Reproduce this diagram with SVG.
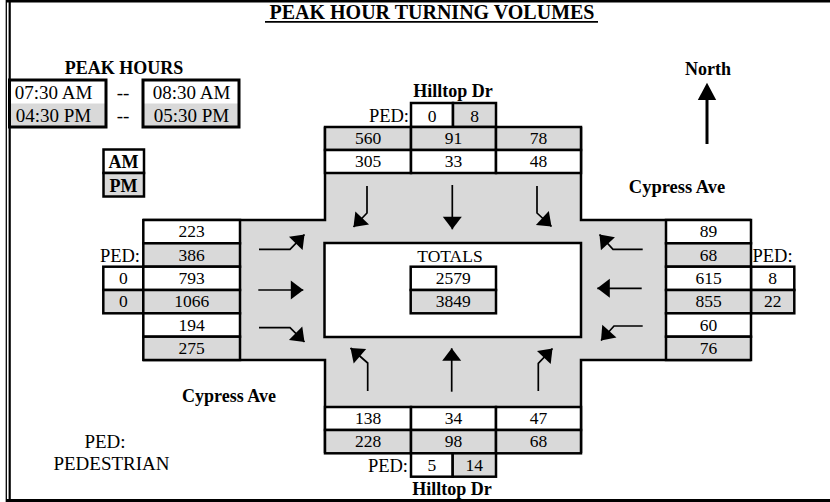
<svg xmlns="http://www.w3.org/2000/svg" width="830" height="502" viewBox="0 0 830 502">
<style>
text{font-family:"Liberation Serif","Times New Roman",serif;font-size:17.5px;fill:#000}
.b{font-weight:bold;font-size:18px}
.c{text-anchor:middle}
.e{text-anchor:end}
.p{font-size:18.5px}
.t{font-size:19px}
.w{fill:#fff;stroke:#000;stroke-width:2.5}
.g{fill:#d9d9d9;stroke:#000;stroke-width:2.5}
.ln{stroke:#000;stroke-width:2.5;fill:none}
.arr{stroke:#000;stroke-width:1.7;fill:none;marker-end:url(#ah)}
</style>
<defs>
<marker id="ah" viewBox="-14 -10 15 20" refX="0" refY="0" markerWidth="15" markerHeight="20" markerUnits="userSpaceOnUse" orient="auto">
<path d="M0,0 L-12.5,-9.5 L-12.5,9.5 Z" fill="#000"/>
</marker>
</defs>
<rect x="0" y="0" width="830" height="502" fill="#fff"/>
<g id="frame">
<line x1="6.3" y1="0" x2="6.3" y2="502" stroke="#000" stroke-width="1.3"/>
<line x1="9.7" y1="2" x2="9.7" y2="500" stroke="#000" stroke-width="2.2"/>
<line x1="6" y1="1.3" x2="830" y2="1.3" stroke="#000" stroke-width="2.6"/>
<line x1="6" y1="500.5" x2="830" y2="500.5" stroke="#000" stroke-width="3"/>
</g>
<g id="title">
<text class="b c" x="432" y="19" style="font-size:20px">PEAK HOUR TURNING VOLUMES</text>
<line x1="265" y1="21.8" x2="598" y2="21.8" stroke="#000" stroke-width="1.8"/>
</g>
<g id="peak-hours">
<text class="b c" x="124" y="74">PEAK HOURS</text>
<rect x="9.5" y="80" width="96.5" height="23.5" fill="#fff"/>
<rect x="9.5" y="103.5" width="96.5" height="23.5" fill="#d9d9d9"/>
<rect x="9.5" y="80" width="96.5" height="47" fill="none" stroke="#000" stroke-width="3"/>
<rect x="143" y="80" width="96" height="23.5" fill="#fff"/>
<rect x="143" y="103.5" width="96" height="23.5" fill="#d9d9d9"/>
<rect x="143" y="80" width="96" height="47" fill="none" stroke="#000" stroke-width="3"/>
<text class="c t" x="53.5" y="98.5">07:30 AM</text>
<text class="c t" x="53.5" y="121.5">04:30 PM</text>
<text class="c t" x="123" y="98.5">--</text>
<text class="c t" x="123" y="121.5">--</text>
<text class="c t" x="191.5" y="98.5">08:30 AM</text>
<text class="c t" x="191.5" y="121.5">05:30 PM</text>
</g>
<g id="legend">
<rect class="w" x="103.5" y="149.5" width="40.5" height="23.5"/>
<rect class="g" x="103.5" y="173" width="40.5" height="23.5"/>
<text class="b c" x="123.5" y="168.3">AM</text>
<text class="b c" x="123.5" y="191.7">PM</text>
</g>
<g id="north">
<text class="b c" x="708" y="75">North</text>
<line x1="707" y1="144" x2="707" y2="98" stroke="#000" stroke-width="3"/>
<polygon points="707,82.7 697.8,100 716.2,100" fill="#000"/>
</g>
<g id="intersection">
<polygon points="325,173 581,173 581,220 666,220 666,360 581,360 581,407 325,407 325,360 240,360 240,220 325,220" fill="#d9d9d9"/>
<rect x="324.5" y="243" width="256.5" height="94" fill="#fff" stroke="#000" stroke-width="2.5"/>
<path class="ln" d="M325,127 V220 H143 M581,127 V220 H751 M143,360 H325 V453 M751,360 H581 V453"/>
</g>
<g id="north-approach">
<text class="b c" x="453" y="97">Hilltop Dr</text>
<text class="e p" x="409" y="121.7">PED:</text>
<rect class="w" x="411" y="103" width="42" height="24"/>
<rect class="g" x="453" y="103" width="43" height="24"/>
<text class="c" x="432" y="121.5">0</text>
<text class="c" x="474.5" y="121.5">8</text>
<rect class="g" x="325" y="127" width="86" height="23"/>
<rect class="g" x="411" y="127" width="85" height="23"/>
<rect class="g" x="496" y="127" width="85" height="23"/>
<rect class="w" x="325" y="150" width="86" height="23"/>
<rect class="w" x="411" y="150" width="85" height="23"/>
<rect class="w" x="496" y="150" width="85" height="23"/>
<text class="c" x="368" y="144">560</text>
<text class="c" x="453.5" y="144">91</text>
<text class="c" x="538.5" y="144">78</text>
<text class="c" x="368" y="167">305</text>
<text class="c" x="453.5" y="167">33</text>
<text class="c" x="538.5" y="167">48</text>
</g>
<g id="west-approach">
<text class="e p" x="140" y="261.7">PED:</text>
<rect class="w" x="103.3" y="266.7" width="40" height="23.3"/>
<rect class="g" x="103.3" y="290" width="40" height="23.3"/>
<text class="c" x="123.3" y="284">0</text>
<text class="c" x="123.3" y="307.3">0</text>
<rect class="w" x="143.3" y="220" width="96.7" height="23.3"/>
<rect class="g" x="143.3" y="243.3" width="96.7" height="23.4"/>
<rect class="w" x="143.3" y="266.7" width="96.7" height="23.3"/>
<rect class="g" x="143.3" y="290" width="96.7" height="23.3"/>
<rect class="w" x="143.3" y="313.3" width="96.7" height="23.4"/>
<rect class="g" x="143.3" y="336.7" width="96.7" height="23.3"/>
<text class="c" x="191.7" y="237.3">223</text>
<text class="c" x="191.7" y="260.7">386</text>
<text class="c" x="191.7" y="284">793</text>
<text class="c" x="191.7" y="307.3">1066</text>
<text class="c" x="191.7" y="330.7">194</text>
<text class="c" x="191.7" y="354">275</text>
<text class="b c" x="229" y="401.7">Cypress Ave</text>
</g>
<g id="east-approach">
<text class="b c" x="677" y="192.7" style="font-size:18.5px">Cypress Ave</text>
<text class="p" x="752.5" y="261.7">PED:</text>
<rect class="w" x="751" y="266.7" width="43.3" height="23.3"/>
<rect class="g" x="751" y="290" width="43.3" height="23.3"/>
<text class="c" x="772.7" y="284">8</text>
<text class="c" x="772.7" y="307.3">22</text>
<rect class="w" x="666" y="220" width="85" height="23.3"/>
<rect class="g" x="666" y="243.3" width="85" height="23.4"/>
<rect class="w" x="666" y="266.7" width="85" height="23.3"/>
<rect class="g" x="666" y="290" width="85" height="23.3"/>
<rect class="w" x="666" y="313.3" width="85" height="23.4"/>
<rect class="g" x="666" y="336.7" width="85" height="23.3"/>
<text class="c" x="708.5" y="237.3">89</text>
<text class="c" x="708.5" y="260.7">68</text>
<text class="c" x="708.5" y="284">615</text>
<text class="c" x="708.5" y="307.3">855</text>
<text class="c" x="708.5" y="330.7">60</text>
<text class="c" x="708.5" y="354">76</text>
</g>
<g id="south-approach">
<rect class="w" x="325" y="407" width="86" height="23"/>
<rect class="w" x="411" y="407" width="85" height="23"/>
<rect class="w" x="496" y="407" width="85" height="23"/>
<rect class="g" x="325" y="430" width="86" height="23.3"/>
<rect class="g" x="411" y="430" width="85" height="23.3"/>
<rect class="g" x="496" y="430" width="85" height="23.3"/>
<text class="c" x="368" y="424">138</text>
<text class="c" x="453.5" y="424">34</text>
<text class="c" x="538.5" y="424">47</text>
<text class="c" x="368" y="447.3">228</text>
<text class="c" x="453.5" y="447.3">98</text>
<text class="c" x="538.5" y="447.3">68</text>
<text class="e p" x="408" y="471.5">PED:</text>
<rect class="w" x="411" y="453.3" width="41.7" height="23.4"/>
<rect class="g" x="452.7" y="453.3" width="43.3" height="23.4"/>
<text class="c" x="431.8" y="471.3">5</text>
<text class="c" x="474.3" y="471.3">14</text>
<text class="b c" x="452" y="495">Hilltop Dr</text>
</g>
<g id="totals">
<text class="c" x="450" y="261.7">TOTALS</text>
<rect class="w" x="410.7" y="266.7" width="85.3" height="23.3"/>
<rect class="g" x="410.7" y="290" width="85.3" height="23.3"/>
<text class="c" x="453.3" y="284">2579</text>
<text class="c" x="453.3" y="307.3">3849</text>
</g>
<g id="note">
<text class="c t" x="105" y="448.3">PED:</text>
<text class="c t" x="111.5" y="470">PEDESTRIAN</text>
</g>
<g id="connectors">
<path class="arr" d="M367,186 V213 L353.5,227"/>
<path class="arr" d="M452.3,185 V229.3"/>
<path class="arr" d="M537,186 V213 L551.5,226.5"/>
<path class="arr" d="M259,249.3 H290 L304.5,234.5"/>
<path class="arr" d="M258.3,290 H303.3"/>
<path class="arr" d="M259,327.7 H290 L304.5,342"/>
<path class="arr" d="M642.7,249.3 H613 L599.5,234.5"/>
<path class="arr" d="M641.7,288.3 H597.3"/>
<path class="arr" d="M642.7,326 H614 L601,340.5"/>
<path class="arr" d="M367.7,391 V363 L350.5,348"/>
<path class="arr" d="M451.7,391.7 V348.3"/>
<path class="arr" d="M538.3,391 V363.3 L552.5,348.5"/>
</g>
</svg>
